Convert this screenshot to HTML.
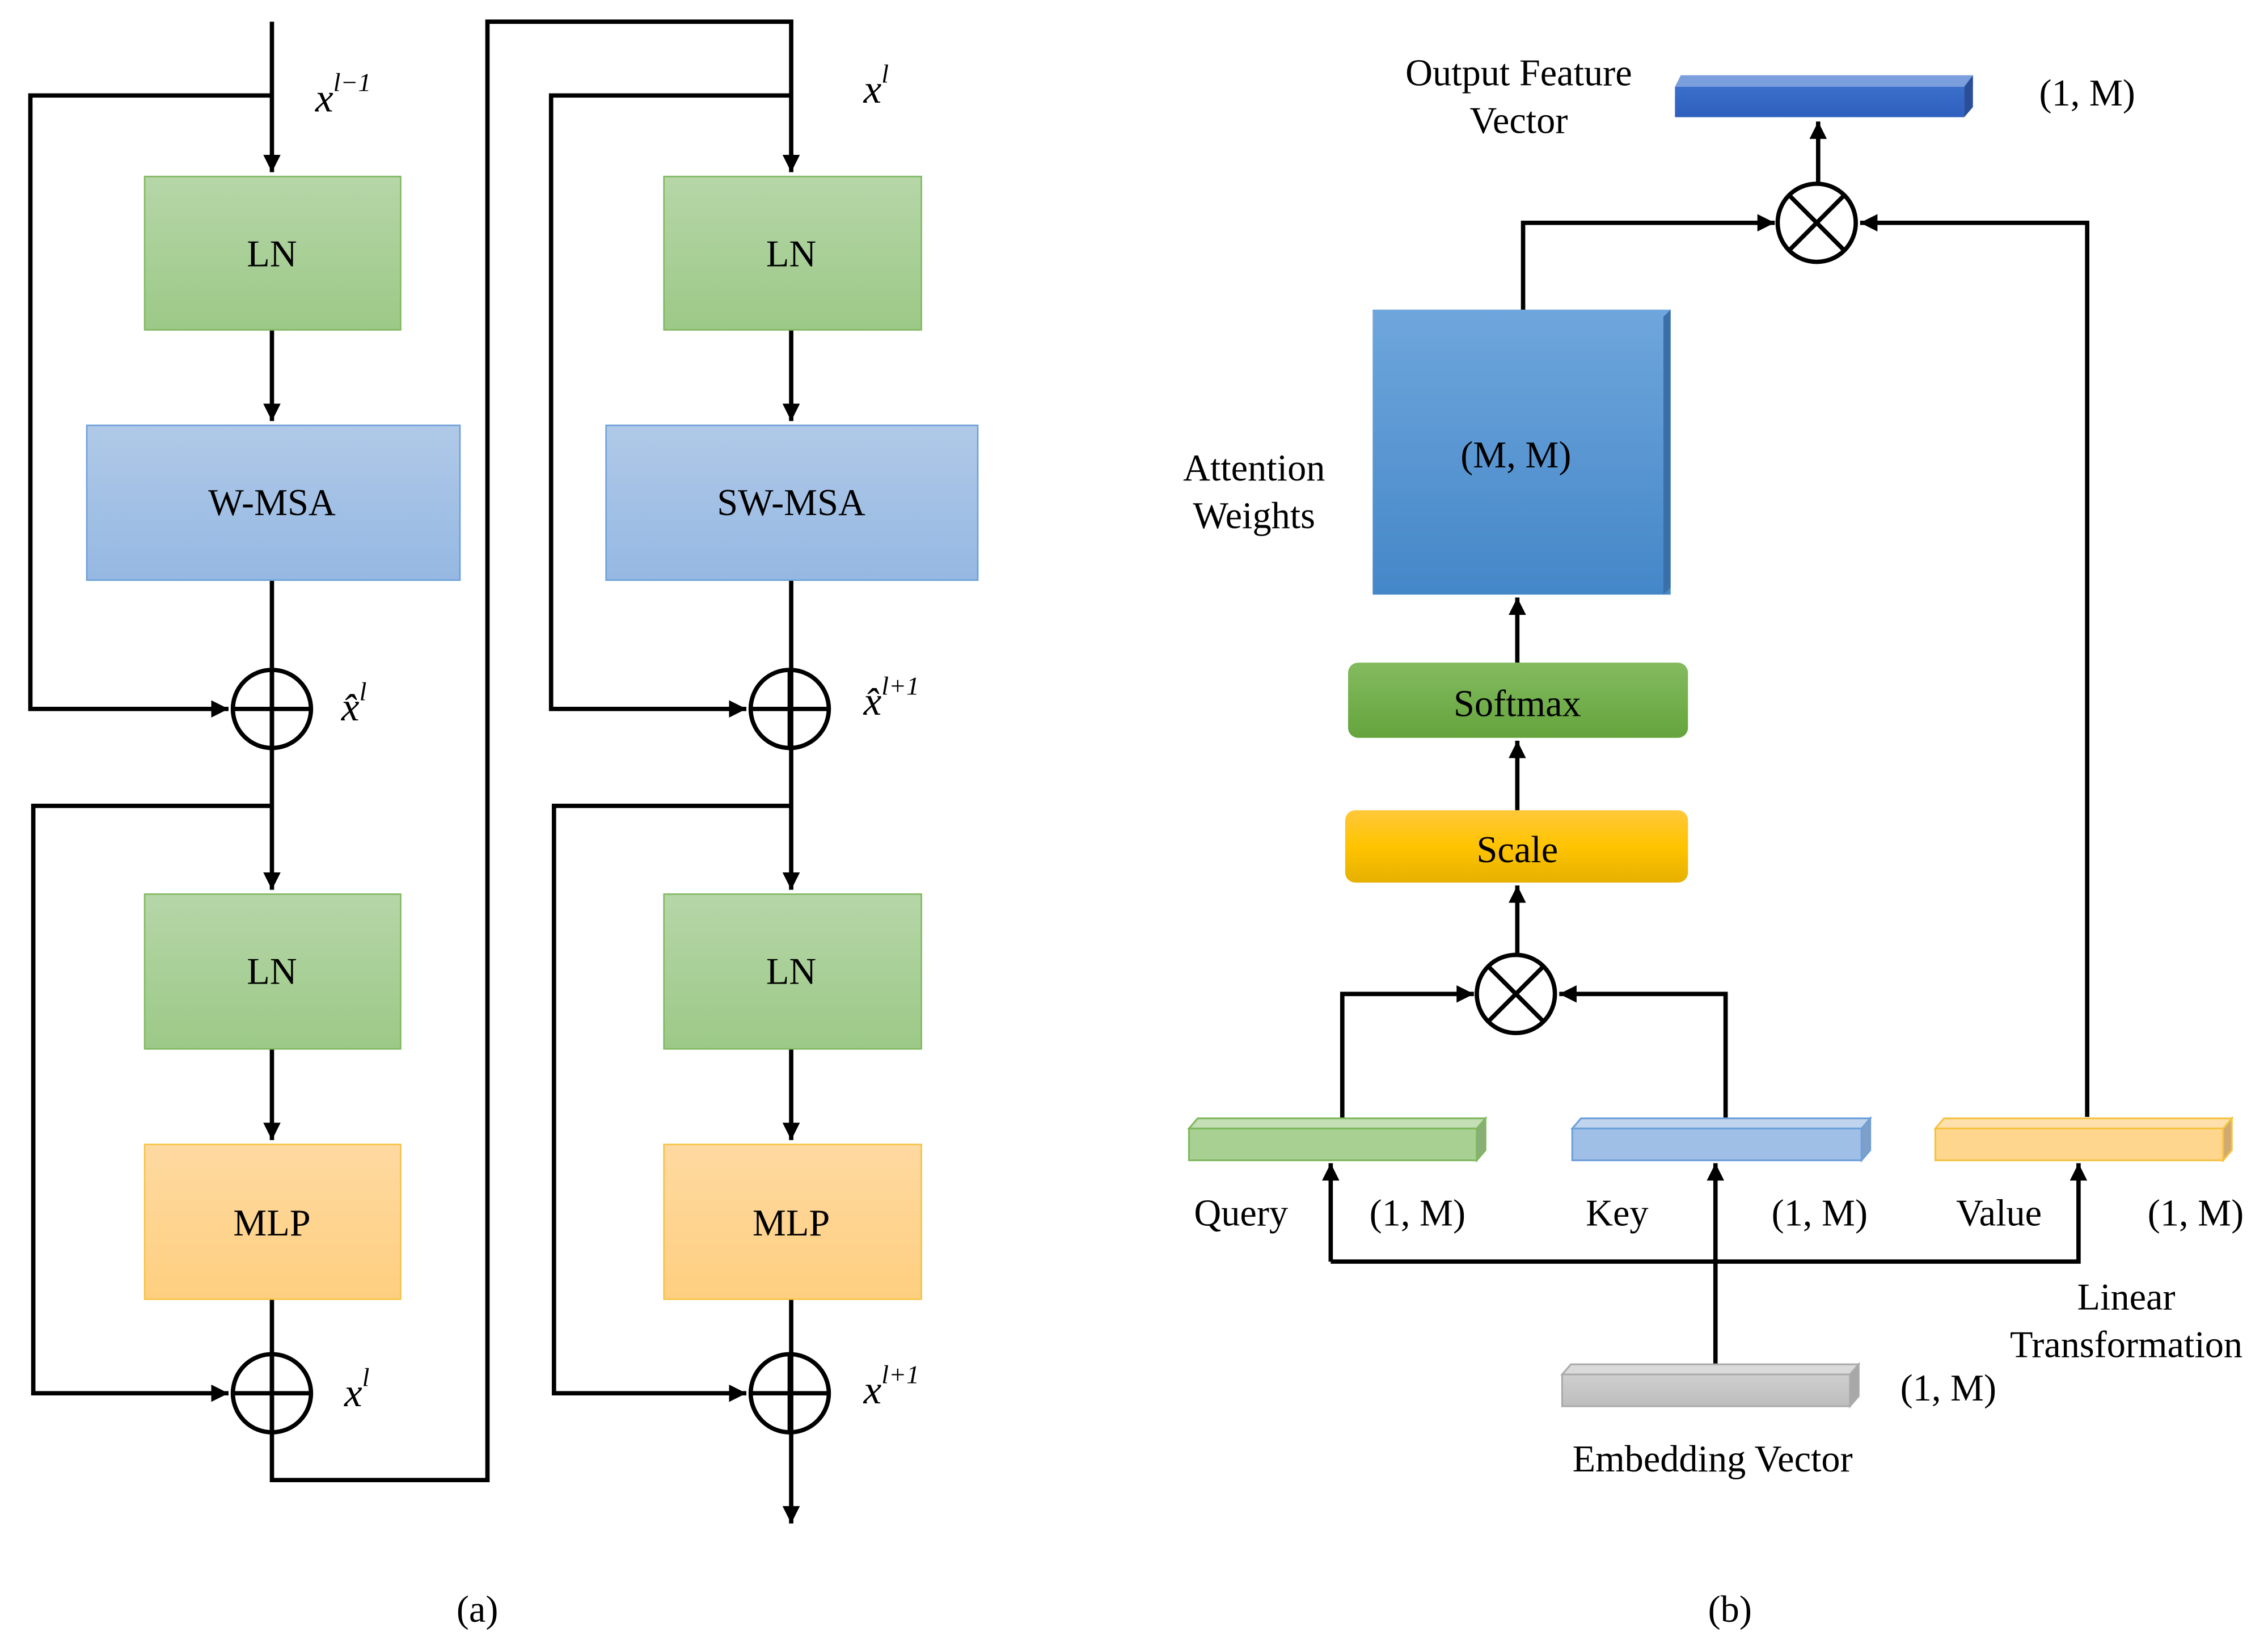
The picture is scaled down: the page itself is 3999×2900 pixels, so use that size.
<!DOCTYPE html>
<html><head><meta charset="utf-8"><style>html,body{margin:0;padding:0;background:#fff}svg{display:block}</style></head><body>
<svg width="3999" height="2900" viewBox="0 0 1568 1137" preserveAspectRatio="none" xmlns="http://www.w3.org/2000/svg" font-family="Liberation Serif, serif">
<defs>
<linearGradient id="gG" x1="0" y1="0" x2="0" y2="1"><stop offset="0" stop-color="#b6d6a8"/><stop offset="1" stop-color="#9cc987"/></linearGradient>
<linearGradient id="gB" x1="0" y1="0" x2="0" y2="1"><stop offset="0" stop-color="#b0c9e8"/><stop offset="1" stop-color="#95b8e2"/></linearGradient>
<linearGradient id="gY" x1="0" y1="0" x2="0" y2="1"><stop offset="0" stop-color="#fed9a0"/><stop offset="1" stop-color="#fecf80"/></linearGradient>
<linearGradient id="gAW" x1="0" y1="0" x2="0" y2="1"><stop offset="0" stop-color="#6fa6dc"/><stop offset="1" stop-color="#4487c8"/></linearGradient>
<linearGradient id="gSM" x1="0" y1="0" x2="0" y2="1"><stop offset="0" stop-color="#84bb60"/><stop offset="1" stop-color="#64a43c"/></linearGradient>
<linearGradient id="gSC" x1="0" y1="0" x2="0" y2="1"><stop offset="0" stop-color="#ffc83a"/><stop offset="0.5" stop-color="#ffc400"/><stop offset="1" stop-color="#e6b000"/></linearGradient>
<linearGradient id="gOut" x1="0" y1="0" x2="0" y2="1"><stop offset="0" stop-color="#3a6fca"/><stop offset="1" stop-color="#2f5fbd"/></linearGradient>
<linearGradient id="gE" x1="0" y1="0" x2="0" y2="1"><stop offset="0" stop-color="#cfcfcf"/><stop offset="1" stop-color="#bdbdbd"/></linearGradient>
<marker id="ar" viewBox="0 0 10 10" refX="10" refY="5" markerWidth="4" markerHeight="4" orient="auto" markerUnits="strokeWidth"><path d="M0,0 L10,5 L0,10 z" fill="#000"/></marker>
</defs>
<g fill="none" stroke="#000" stroke-width="3">
<!-- Left column -->
<path d="M188,15 V119" marker-end="url(#ar)"/>
<path d="M188,66 H21 V490 H158" marker-end="url(#ar)"/>
<path d="M188,228 V291" marker-end="url(#ar)"/>
<path d="M188,401 V557 V615" marker-end="url(#ar)"/>
<path d="M188,557 H23 V963 H158" marker-end="url(#ar)"/>
<path d="M188,725 V788" marker-end="url(#ar)"/>
<path d="M188,898 V1023 H337 V15 H547 V119" marker-end="url(#ar)"/>
<path d="M547,66 H381 V490 H516" marker-end="url(#ar)"/>
<path d="M547,228 V291" marker-end="url(#ar)"/>
<path d="M547,401 V557 V615" marker-end="url(#ar)"/>
<path d="M547,557 H383 V963 H516" marker-end="url(#ar)"/>
<path d="M547,725 V788" marker-end="url(#ar)"/>
<path d="M547,898 V1053" marker-end="url(#ar)"/>
</g>
<rect x="100" y="122" width="177" height="106" fill="url(#gG)" stroke="#7fb85f" stroke-width="1"/>
<rect x="60" y="294" width="258" height="107" fill="url(#gB)" stroke="#6d9fd8" stroke-width="1"/>
<rect x="100" y="618" width="177" height="107" fill="url(#gG)" stroke="#7fb85f" stroke-width="1"/>
<rect x="100" y="791" width="177" height="107" fill="url(#gY)" stroke="#f5c242" stroke-width="1"/>
<rect x="459" y="122" width="178" height="106" fill="url(#gG)" stroke="#7fb85f" stroke-width="1"/>
<rect x="419" y="294" width="257" height="107" fill="url(#gB)" stroke="#6d9fd8" stroke-width="1"/>
<rect x="459" y="618" width="178" height="107" fill="url(#gG)" stroke="#7fb85f" stroke-width="1"/>
<rect x="459" y="791" width="178" height="107" fill="url(#gY)" stroke="#f5c242" stroke-width="1"/>
<g fill="none" stroke="#000" stroke-width="3">
<circle cx="188" cy="490" r="27"/><path d="M161,490 H215 M188,463 V517"/>
<circle cx="188" cy="963" r="27"/><path d="M161,963 H215 M188,936 V990"/>
<circle cx="546" cy="490" r="27"/><path d="M519,490 H573 M546,463 V517"/>
<circle cx="546" cy="963" r="27"/><path d="M519,963 H573 M546,936 V990"/>
</g>
<g font-size="26" text-anchor="middle">
<text x="188" y="184">LN</text><text x="188" y="356">W-MSA</text>
<text x="188" y="680">LN</text><text x="188" y="854">MLP</text>
<text x="547" y="184">LN</text><text x="547" y="356">SW-MSA</text>
<text x="547" y="680">LN</text><text x="547" y="854">MLP</text>
<text x="330" y="1121">(a)</text><text x="1196" y="1121">(b)</text>
</g>
<g font-size="28" font-style="italic">
<text x="218" y="77">x<tspan font-size="18" dy="-14">l−1</tspan></text>
<text x="597" y="71">x<tspan font-size="18" dy="-14">l</tspan></text>
<text x="236" y="498">x̂<tspan font-size="18" dy="-14">l</tspan></text>
<text x="597" y="494">x̂<tspan font-size="18" dy="-14">l+1</tspan></text>
<text x="238" y="972">x<tspan font-size="18" dy="-14">l</tspan></text>
<text x="597" y="970">x<tspan font-size="18" dy="-14">l+1</tspan></text>
</g>
<!-- Right diagram -->
<g fill="none" stroke="#000" stroke-width="3">
<path d="M1257,127 V84" marker-end="url(#ar)"/>
<path d="M1053,215 V154 H1227" marker-end="url(#ar)"/>
<path d="M1443,772 V154 H1286" marker-end="url(#ar)"/>
<path d="M1049,458 V413" marker-end="url(#ar)"/>
<path d="M1049,560 V512" marker-end="url(#ar)"/>
<path d="M1049,660 V612" marker-end="url(#ar)"/>
<path d="M928,773 V687 H1019" marker-end="url(#ar)"/>
<path d="M1193,773 V687 H1078" marker-end="url(#ar)"/>
<path d="M920,872 V804" marker-end="url(#ar)"/>
<path d="M920,872 H1437 V804" marker-end="url(#ar)"/>
<path d="M1186,943 V804" marker-end="url(#ar)"/>
<circle cx="1256" cy="154" r="27"/><path d="M1237,135 L1275,173 M1275,135 L1237,173"/>
<circle cx="1048" cy="687" r="27"/><path d="M1029,668 L1067,706 M1067,668 L1029,706"/>
</g>
<!-- output bar -->
<polygon points="1158,60 1162,52 1364,52 1364,60" fill="#7a9fdc"/>
<rect x="1158" y="60" width="200" height="21" fill="url(#gOut)"/>
<polygon points="1358,60 1364,52 1364,74 1358,81" fill="#2a4f9a"/>
<!-- attention box -->
<rect x="949" y="214" width="206" height="197" fill="url(#gAW)"/>
<polygon points="1150,219 1155,214 1155,406 1150,411" fill="#3b6fa8"/>
<rect x="932" y="458" width="235" height="52" rx="7" fill="url(#gSM)"/>
<rect x="930" y="560" width="237" height="50" rx="7" fill="url(#gSC)"/>
<!-- QKV bars -->
<g stroke-width="1.2">
<polygon points="822,780 828,773 1027,773 1021,780" fill="#c4deb6" stroke="#7fb85f"/>
<rect x="822" y="780" width="199" height="22" fill="#a7d092" stroke="#7fb85f"/>
<polygon points="1021,780 1027,773 1027,795 1021,802" fill="#8aae78" stroke="#7fb85f"/>
<polygon points="1087,780 1093,773 1293,773 1287,780" fill="#c0d4ee" stroke="#6d9fd8"/>
<rect x="1087" y="780" width="200" height="22" fill="#a0bfe6" stroke="#6d9fd8"/>
<polygon points="1287,780 1293,773 1293,795 1287,802" fill="#7f9fc8" stroke="#6d9fd8"/>
<polygon points="1338,780 1344,773 1543,773 1537,780" fill="#fee0ad" stroke="#f5c242"/>
<rect x="1338" y="780" width="199" height="22" fill="#fed68d" stroke="#f5c242"/>
<polygon points="1537,780 1543,773 1543,795 1537,802" fill="#d0aa70" stroke="#f5c242"/>
<polygon points="1080,950 1086,943 1285,943 1279,950" fill="#dadada" stroke="#aaa"/>
<rect x="1080" y="950" width="199" height="22" fill="url(#gE)" stroke="#aaa"/>
<polygon points="1279,950 1285,943 1285,965 1279,972" fill="#a8a8a8" stroke="#aaa"/>
</g>
<g font-size="26" text-anchor="middle">
<text x="1050" y="59">Output Feature</text><text x="1050" y="92">Vector</text>
<text x="1443" y="73">(1, M)</text>
<text x="1048" y="323">(M, M)</text>
<text x="867" y="332">Attention</text><text x="867" y="365">Weights</text>
<text x="1049" y="495">Softmax</text>
<text x="1049" y="596">Scale</text>
<text x="858" y="847">Query</text><text x="980" y="847">(1, M)</text>
<text x="1118" y="847">Key</text><text x="1258" y="847">(1, M)</text>
<text x="1382" y="847">Value</text><text x="1518" y="847">(1, M)</text>
<text x="1470" y="905">Linear</text><text x="1470" y="938">Transformation</text>
<text x="1347" y="968">(1, M)</text>
<text x="1184" y="1017">Embedding Vector</text>
</g>
</svg>
</body></html>
